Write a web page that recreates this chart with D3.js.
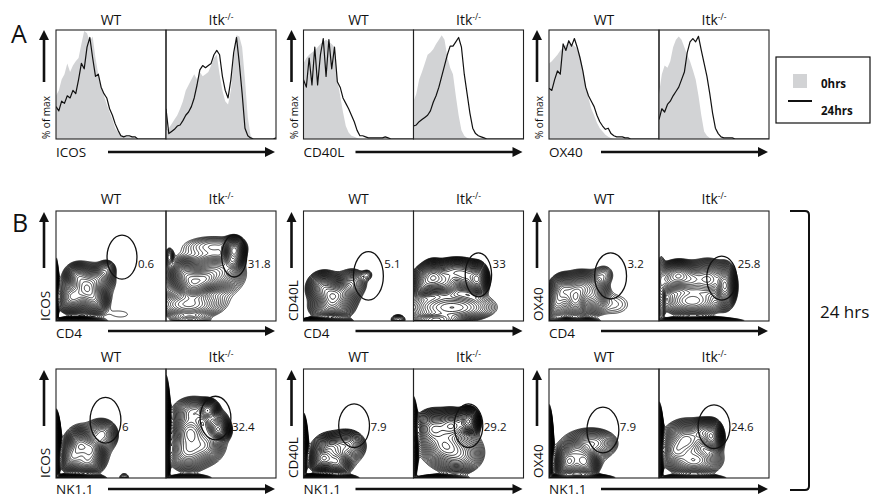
<!DOCTYPE html>
<html><head><meta charset="utf-8">
<script src="https://cdn.jsdelivr.net/npm/d3@7"></script>
<style>body{margin:0;background:#fff} svg{display:block} text{font-family:"Open Sans",sans-serif;fill:#111}</style>
</head><body><svg id="c" width="875" height="497"></svg>
<script>
// ---------------- DATA ----------------
const genotypes = ["WT", "Itk"];
const markers = ["ICOS", "CD40L", "OX40"];
const xMarkersB = ["CD4", "NK1.1"];
const legendLabels = ["0hrs", "24hrs"];
const timeLabel = "24 hrs";
const yLabelA = "% of max";

// histograms (% of max, 40 bins across each panel): 0hrs (grey fill) and 24hrs (black line)
const icosWT0  = [40,45,55,60,70,62,68,72,75,88,100,98,90,95,75,60,48,40,32,25,18,10,6,4,3,3,3,2,1,0,0,0,0,0,0,0,0,0,0,0];
const icosWT24 = [30,26,35,33,40,38,45,42,55,70,65,85,94,75,58,60,48,42,38,28,22,14,8,3,2,3,3,2,2,0,0,0,0,0,0,0,0,0,0,0];
const icosKO0  = [8,10,14,18,22,28,35,45,50,55,60,55,62,58,60,62,68,75,78,60,45,35,32,45,75,96,95,85,55,20,3,0,0,0,0,0,0,0,0,0];
const icosKO24 = [28,5,7,9,12,13,17,22,25,30,38,50,64,68,66,68,70,78,82,78,58,45,38,55,80,94,70,42,10,3,1,0,0,0,0,0,0,0,0,1];
const cd40lWT0  = [70,75,78,80,82,85,88,90,92,90,88,85,55,40,25,12,6,3,2,1,0,0,0,0,0,0,0,0,0,0,0,0,0,0,0,0,0,0,0,0];
const cd40lWT24 = [55,48,75,50,85,50,78,93,58,92,65,85,53,48,38,33,28,22,16,8,3,3,2,1,1,1,1,1,1,2,1,0,0,0,0,0,0,0,0,0];
const cd40lKO0  = [35,42,55,62,70,78,80,83,88,92,96,92,76,66,60,40,22,8,3,1,0,0,0,0,0,0,0,0,0,0,0,0,0,0,0,0,0,0,0,0];
const cd40lKO24 = [12,13,16,18,20,22,26,34,40,48,58,68,78,86,86,90,94,85,60,42,24,10,5,3,2,1,0,0,0,0,0,0,0,0,0,0,0,0,0,0];
const ox40WT0  = [70,72,75,78,82,85,87,90,88,86,84,78,65,50,38,28,22,15,10,7,4,2,1,0,0,0,0,0,0,0,0,0,0,0,0,0,0,0,0,0];
const ox40WT24 = [47,45,55,63,60,88,82,91,86,93,85,75,63,48,40,35,30,22,16,12,9,10,5,3,2,2,2,1,1,0,0,0,0,0,0,0,0,0,0,0];
const ox40KO0  = [42,60,68,66,72,85,92,95,92,85,78,72,64,55,40,22,7,3,1,0,0,0,0,0,0,0,0,0,0,0,0,0,0,0,0,0,0,0,0,0];
const ox40KO24 = [18,28,25,32,35,40,44,48,55,62,80,90,93,90,95,82,70,58,42,24,10,5,2,1,1,1,1,0,0,0,0,0,0,0,0,0,0,0,0,0];

// contour plots: cell populations [x%, y%, spreadX, spreadY, relative weight]
const cd4IcosWT = [[28,30,6,7,1.0],[20,40,5,5,0.5],[15,22,6,6,0.7],[35,20,5,6,0.5],[38,38,6,5,0.35],[46,47,4,4,0.12],[28,30,15,14,0.06],[20,-1,10,2,0.5],[-1,25,1.5,14,0.4],[60,6,12,5,0.02]];
const cd4IcosKO = [[62,64,4,5,1.0],[60,54,4,4,0.4],[25,34,6,6,0.8],[35,38,6,5,0.6],[18,42,6,6,0.5],[45,44,10,7,0.4],[20,15,14,6,0.2],[35,40,22,18,0.05],[22,0,8,3,0.15],[3,58,2,4,0.1],[45,68,15,5,0.06]];
const cd4Cd40lWT = [[26,22,6,6,1.0],[18,30,6,6,0.6],[35,25,6,6,0.5],[25,12,8,5,0.5],[45,35,6,6,0.15],[58,42,3,3,0.05],[28,25,14,12,0.06],[20,-1,10,2,0.6],[86,1,4,3,0.08]];
const cd4Cd40lKO = [[18,40,5,6,1.0],[10,35,5,6,0.6],[28,36,6,6,0.6],[58,38,4,6,1.0],[48,40,6,6,0.5],[38,45,8,5,0.5],[35,12,18,6,0.25],[20,1,10,3,0.3],[35,30,20,14,0.05]];
const cd4Ox40WT = [[24,20,5,8,1.0],[14,28,5,6,0.6],[30,30,6,6,0.5],[8,18,5,8,0.5],[40,25,6,8,0.3],[50,42,5,5,0.06],[28,25,14,12,0.05],[20,-1,10,2,0.6],[60,15,12,8,0.03]];
const cd4Ox40KO = [[18,42,5,5,0.8],[10,38,6,6,0.6],[28,38,7,6,0.6],[60,32,4,8,1.0],[45,38,7,7,0.6],[30,18,12,6,0.3],[35,30,20,14,0.05],[35,-1,18,2,0.4],[2,30,2,12,0.3]];
const nkIcosWT = [[-1,30,2,12,1.0],[22,30,5,6,0.8],[32,26,5,6,0.7],[15,20,5,6,0.6],[28,15,6,5,0.5],[42,40,6,6,0.25],[28,28,14,14,0.05],[20,-1,10,2,0.5],[62,0,3,3,0.04]];
const nkIcosKO = [[-1,40,2,20,1.0],[38,62,4,4,0.9],[48,44,4,4,1.0],[44,50,5,5,0.5],[25,60,8,6,0.3],[22,42,7,7,0.5],[20,25,8,8,0.4],[35,30,7,7,0.3],[30,40,18,18,0.05],[20,-1,10,2,0.2]];
const nkCd40lWT = [[-1,30,2,12,0.5],[18,18,5,5,1.0],[30,15,5,5,0.7],[25,28,6,5,0.4],[40,30,7,6,0.25],[28,22,14,12,0.06],[20,-1,12,2,0.5]];
const nkCd40lKO = [[-1,35,2,15,0.7],[50,52,4,5,1.0],[35,48,7,6,0.6],[18,45,7,7,0.5],[28,30,8,7,0.35],[40,22,10,8,0.25],[30,35,18,16,0.05],[25,-1,12,2,0.15]];
const nkOx40WT = [[-1,30,2,15,0.5],[18,15,5,6,1.0],[32,15,5,6,0.9],[25,25,5,5,0.4],[40,32,10,6,0.2],[28,22,15,12,0.05],[25,-1,14,2,0.5]];
const nkOx40KO = [[-1,30,2,15,0.8],[48,38,4,6,1.0],[40,42,5,5,0.5],[25,35,8,7,0.6],[15,25,6,6,0.4],[32,16,10,6,0.4],[30,30,18,14,0.05],[30,-1,14,2,0.25]];

// gates [x%, y%, radiusX, radiusY] and gated percentages
const gatesCd4 = [[[60,58,13.6,20],[62,59,11.4,19]], [[59,41,13.6,22],[59,42,12,20]], [[56,41,14.5,21],[57,39,13.6,20]]];
const gatesNk  = [[[45,53,14,21],[45,55,14,20]], [[46,48,14,20],[50,48,13,20]], [[49,44,14.5,21],[50,47,14.5,20]]];
const pctCd4 = [["0.6","31.8"], ["5.1","33"], ["3.2","25.8"]];
const pctNk  = [["6","32.4"], ["7.9","29.2"], ["7.9","24.6"]];

const histData = [[[icosWT0,icosWT24],[icosKO0,icosKO24]], [[cd40lWT0,cd40lWT24],[cd40lKO0,cd40lKO24]], [[ox40WT0,ox40WT24],[ox40KO0,ox40KO24]]];
const contourData = [
  [[cd4IcosWT,cd4IcosKO],[cd4Cd40lWT,cd4Cd40lKO],[cd4Ox40WT,cd4Ox40KO]],
  [[nkIcosWT,nkIcosKO],[nkCd40lWT,nkCd40lKO],[nkOx40WT,nkOx40KO]]
];
const gateData = [gatesCd4, gatesNk];
const pctData = [pctCd4, pctNk];

// ---------------- LAYOUT ----------------
const svg = d3.select("#c");
const groupX = [56, 303.5, 549];
const PW = 110;
const rowA = {top: 30, bottom: 139, titleY: 25, labelY: 157, arrowY: 152};
const rowsB = [{top: 211, bottom: 321, titleY: 204, labelY: 338, arrowY: 331, pctY: 268},
               {top: 369, bottom: 478, titleY: 362, labelY: 494, arrowY: 489, pctY: 431}];
const grey = "#d2d3d5";

const defs = svg.append("defs");
let clipN = 0;

function title(cx, y, gi) {
  const t = svg.append("text").attr("x", cx).attr("y", y).attr("text-anchor", "middle").attr("font-size", 14);
  t.append("tspan").text(genotypes[gi]);
  if (gi === 1) t.append("tspan").attr("font-size", 8.5).attr("dy", -5).text("-/-");
}
function yArrow(x, tip, tail) {
  svg.append("line").attr("x1", x).attr("x2", x).attr("y1", tail).attr("y2", tip + 8)
    .attr("stroke", "#111").attr("stroke-width", 2.6);
  svg.append("path").attr("d", `M${x},${tip} L${x-5},${tip+10} L${x+5},${tip+10} Z`).attr("fill", "#111");
}
function xArrow(x0, x1, y) {
  svg.append("line").attr("x1", x0).attr("x2", x1 - 8).attr("y1", y).attr("y2", y)
    .attr("stroke", "#111").attr("stroke-width", 2.6);
  svg.append("path").attr("d", `M${x1},${y} L${x1-10},${y-5} L${x1-10},${y+5} Z`).attr("fill", "#111");
}
function frame(x, top, bottom) {
  svg.append("rect").attr("x", x).attr("y", top).attr("width", PW).attr("height", bottom - top)
    .attr("fill", "none").attr("stroke", "#222").attr("stroke-width", 1.1);
}
function clipRect(x, top, bottom) {
  const id = "clip" + (clipN++);
  defs.append("clipPath").attr("id", id).append("rect").attr("x", x).attr("y", top).attr("width", PW).attr("height", bottom - top);
  return `url(#${id})`;
}

// panel letters
svg.append("text").attr("x", 11).attr("y", 43).attr("font-size", 25).text("A");
svg.append("text").attr("x", 12).attr("y", 232).attr("font-size", 25).text("B");

// ---------------- PANEL A: histograms ----------------
markers.forEach((m, mi) => {
  const gx = groupX[mi];
  yArrow(gx - 12, rowA.top, 82);
  svg.append("text").attr("transform", `translate(${gx - 6},${rowA.bottom}) rotate(-90)`)
    .attr("font-size", 10).text(yLabelA);
  svg.append("text").attr("x", gx).attr("y", rowA.labelY).attr("font-size", 13.5).text(m);
  xArrow(gx + 52, gx + 2 * PW - 1, rowA.arrowY);
  [0, 1].forEach(gi => {
    const px = gx + gi * PW;
    const [d0, d24] = histData[mi][gi];
    const x = d3.scaleLinear().domain([0, d0.length - 1]).range([px, px + PW]);
    const y = d3.scaleLinear().domain([0, 100]).range([rowA.bottom, rowA.top + 1]);
    const g = svg.append("g").attr("clip-path", clipRect(px, rowA.top, rowA.bottom));
    g.append("path").datum(d0)
      .attr("d", d3.area().x((d, i) => x(i)).y0(rowA.bottom).y1(d => y(d)))
      .attr("fill", grey);
    g.append("path").datum(d24)
      .attr("d", d3.line().x((d, i) => x(i)).y(d => y(d)))
      .attr("fill", "none").attr("stroke", "#111").attr("stroke-width", 1.2).attr("stroke-linejoin", "round");
    frame(px, rowA.top, rowA.bottom);
    title(px + PW / 2, rowA.titleY, gi);
  });
});

// legend
svg.append("rect").attr("x", 776).attr("y", 57).attr("width", 94).attr("height", 66)
  .attr("fill", "none").attr("stroke", "#111").attr("stroke-width", 1.2);
svg.append("rect").attr("x", 793).attr("y", 74).attr("width", 14).attr("height", 14).attr("fill", grey);
svg.append("line").attr("x1", 788).attr("x2", 812).attr("y1", 101).attr("y2", 101).attr("stroke", "#111").attr("stroke-width", 2);
svg.append("text").attr("x", 821).attr("y", 88).attr("font-size", 11.5).attr("font-weight", "bold").text(legendLabels[0]);
svg.append("text").attr("x", 821).attr("y", 115).attr("font-size", 11.5).attr("font-weight", "bold").text(legendLabels[1]);

// ---------------- PANEL B: contour plots ----------------
const N = 110;
const levels = d3.range(28).map(k => 0.95 * Math.pow(0.86, k));
rowsB.forEach((row, ri) => {
  markers.forEach((m, mi) => {
    const gx = groupX[mi];
    const H = row.bottom - row.top;
    yArrow(gx - 12, row.top + 1, row.top + 57);
    svg.append("text").attr("transform", `translate(${gx - 6},${row.bottom}) rotate(-90)`)
      .attr("font-size", 13.5).text(m);
    svg.append("text").attr("x", gx).attr("y", row.labelY).attr("font-size", 13.5).text(xMarkersB[ri]);
    xArrow(gx + 52, gx + 2 * PW - 1, row.arrowY);
    [0, 1].forEach(gi => {
      const px = gx + gi * PW;
      const blobs = contourData[ri][mi][gi];
      const sx = d3.scaleLinear().domain([0, 100]).range([px, px + PW]);
      const sy = d3.scaleLinear().domain([0, 100]).range([row.bottom, row.top]);
      const vals = new Float64Array(N * N);
      for (let j = 0; j < N; j++) {
        const yv = 100 - (j + 0.5) * 100 / N;
        for (let i = 0; i < N; i++) {
          const xv = (i + 0.5) * 100 / N;
          let s = 0;
          for (const [cx, cy, a, b, w] of blobs) {
            const dx = (xv - cx) / a, dy = (yv - cy) / b;
            s += w * Math.exp(-0.5 * (dx * dx + dy * dy));
          }
          vals[j * N + i] = s;
        }
      }
      const mx = d3.max(vals);
      const conts = d3.contours().size([N, N]).smooth(true).thresholds(levels.map(l => l * mx))(vals);
      const proj = d3.geoTransform({point: function(a, b) { this.stream.point(px + a * PW / N, row.top + b * H / N); }});
      const path = d3.geoPath(proj);
      const g = svg.append("g").attr("clip-path", clipRect(px, row.top, row.bottom));
      g.selectAll("path").data(conts).join("path")
        .attr("d", path).attr("fill", "none").attr("stroke", "#000").attr("stroke-width", 0.75);
      const [gcx, gcy, grx, gry] = gateData[ri][mi][gi];
      const ex = sx(gcx), ey = sy(gcy), erx = grx * PW / 100, ery = gry * H / 100;
      svg.append("ellipse").attr("cx", ex).attr("cy", ey).attr("rx", erx).attr("ry", ery)
        .attr("fill", "none").attr("stroke", "#111").attr("stroke-width", 1.3);
      svg.append("text").attr("x", ex + erx + 1).attr("y", row.pctY).attr("font-size", 11.5)
        .text(pctData[ri][mi][gi]);
      frame(px, row.top, row.bottom);
      title(px + PW / 2, row.titleY, gi);
    });
  });
});

// bracket + time label
svg.append("path").attr("d", "M790,211 L805,211 Q809,211 809,215 L809,486 Q809,490 805,490 L790,490")
  .attr("fill", "none").attr("stroke", "#111").attr("stroke-width", 2);
svg.append("text").attr("x", 820).attr("y", 318).attr("font-size", 17).text(timeLabel);
</script></body></html>
